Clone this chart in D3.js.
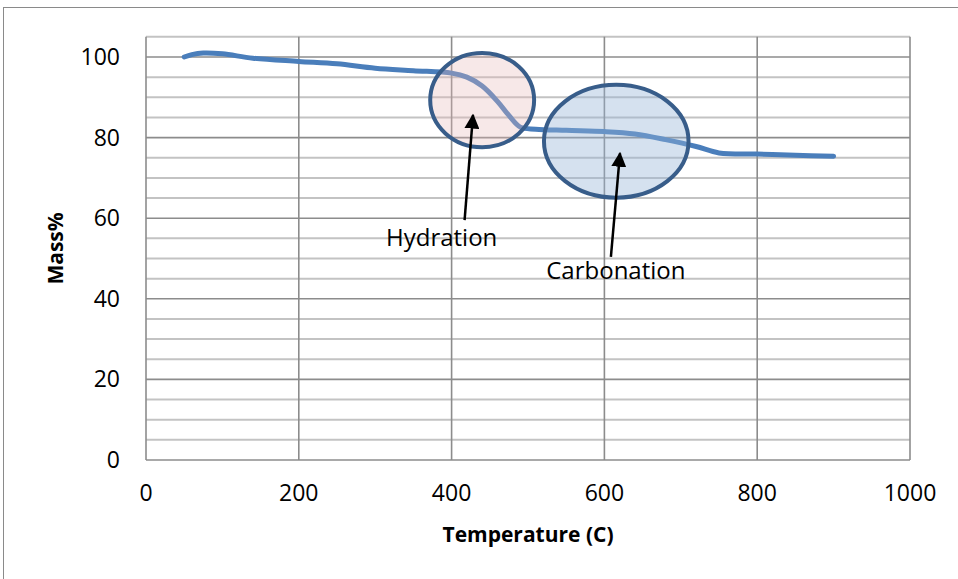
<!DOCTYPE html>
<html lang="en">
<head>
    <meta charset="UTF-8">
    <title>Mass% vs Temperature</title>
    <script src="https://d3js.org/d3.v7.min.js"></script>
    <style>
        body { margin: 0; background: #fff; }
        text { font-family: "Open Sans", sans-serif; fill: #000; }
    </style>
</head>
    <body>
        <script>
            // curve
            const temperature = [50, 60, 75, 100, 140, 200, 250, 300, 350, 400, 420, 440, 460, 475, 490, 510, 550, 600, 640, 680, 720, 750, 800, 850, 900]
            const mass = [100.0, 100.6, 101.0, 100.8, 99.7, 98.9, 98.3, 97.2, 96.6, 96.0, 95.0, 92.8, 89.0, 85.5, 82.6, 82.1, 81.8, 81.5, 80.9, 79.5, 77.8, 76.2, 75.9, 75.6, 75.4]

            const xTicks = [0, 200, 400, 600, 800, 1000]
            const yTicks = [0, 20, 40, 60, 80, 100]

            // annotations in data units: ellipse centre/radii, label and arrow
            const notes = [
                { label: 'Hydration', cx: 440, cy: 89.3, rx: 68, ry: 11.7, fill: '#E6B9B8', op: 0.32, tx: 387, ty: 53.1, ax0: 417, ay0: 59.5, ax1: 428, ay1: 85.6 },
                { label: 'Carbonation', cx: 615.5, cy: 79.1, rx: 94.6, ry: 14.0, fill: '#95B3D7', op: 0.4, tx: 615, ty: 44.9, ax0: 608.5, ay0: 50.4, ax1: 620.4, ay1: 76.1 }
            ]

            const data = temperature.map((t, i) => ({ t: t, m: mass[i] }))

            let width = 958
            let height = 579

            let margin = { top: 36.85, right: 48, bottom: 119, left: 146 }

            xScale = d3.scaleLinear()
                .domain([0, 1000])
                .range([margin.left, width - margin.right])

            yScale = d3.scaleLinear()
                .domain([0, 105])
                .range([height - margin.bottom, margin.top])

            let svg = d3.select('body').append('svg').attr('width', width).attr('height', height)

            svg.append('rect')
                .attr('x', 3.5).attr('y', 7.5)
                .attr('width', width).attr('height', height)
                .attr('fill', 'none').attr('stroke', '#8a8a8a')

            svg.append('defs').append('marker')
                .attr('id', 'head')
                .attr('viewBox', '0 0 10 10')
                .attr('refX', 9).attr('refY', 5)
                .attr('markerWidth', 6).attr('markerHeight', 6)
                .attr('markerUnits', 'strokeWidth')
                .attr('orient', 'auto')
                .append('path')
                .attr('d', 'M0,0 L10,5 L0,10 z')
                .attr('fill', '#000')

            // minor horizontal grid every 5
            svg.append('g')
                .attr('class', 'grid-minor')
                .selectAll('line')
                .data(d3.range(5, 106, 5).filter(v => v % 20 !== 0))
                .join('line')
                .attr('x1', xScale(0)).attr('x2', xScale(1000))
                .attr('y1', d => yScale(d)).attr('y2', d => yScale(d))
                .attr('stroke', '#c3c3c3').attr('stroke-width', 2)

            svg.append('g')
                .attr('class', 'grid-major-y')
                .selectAll('line')
                .data(yTicks)
                .join('line')
                .attr('x1', xScale(0)).attr('x2', xScale(1000))
                .attr('y1', d => yScale(d)).attr('y2', d => yScale(d))
                .attr('stroke', '#8c8c8c').attr('stroke-width', 1.6)

            svg.append('g')
                .attr('class', 'grid-major-x')
                .selectAll('line')
                .data(xTicks)
                .join('line')
                .attr('x1', d => xScale(d)).attr('x2', d => xScale(d))
                .attr('y1', yScale(0)).attr('y2', yScale(105))
                .attr('stroke', '#8c8c8c').attr('stroke-width', 1.6)

            // tick labels
            svg.append('g')
                .selectAll('text')
                .data(xTicks)
                .join('text')
                .attr('x', d => xScale(d))
                .attr('y', yScale(0) + 41)
                .attr('text-anchor', 'middle')
                .style('font-size', '23px')
                .text(d => d)

            svg.append('g')
                .selectAll('text')
                .data(yTicks)
                .join('text')
                .attr('x', xScale(0) - 26)
                .attr('y', d => yScale(d) + 8)
                .attr('text-anchor', 'end')
                .style('font-size', '23px')
                .text(d => d)

            svg.append('text')
                .attr('x', (xScale(0) + xScale(1000)) / 2)
                .attr('y', 542)
                .attr('text-anchor', 'middle')
                .style('font-size', '21px')
                .style('font-weight', 'bold')
                .text('Temperature (C)')

            svg.append('text')
                .attr('transform', `translate(63,${ (yScale(0) + yScale(105)) / 2 }) rotate(-90)`)
                .attr('text-anchor', 'middle')
                .style('font-size', '21px')
                .style('font-weight', 'bold')
                .text('Mass%')

            const line = d3.line()
                .x(d => xScale(d.t))
                .y(d => yScale(d.m))
                .curve(d3.curveCatmullRom)

            svg.append('path')
                .datum(data)
                .attr('d', line)
                .attr('fill', 'none')
                .attr('stroke', '#4a7ebb')
                .attr('stroke-width', 5)
                .attr('stroke-linecap', 'round')

            const kx = xScale(1) - xScale(0)
            const ky = yScale(0) - yScale(1)

            svg.append('g')
                .selectAll('ellipse')
                .data(notes)
                .join('ellipse')
                .attr('cx', d => xScale(d.cx))
                .attr('cy', d => yScale(d.cy))
                .attr('rx', d => d.rx * kx)
                .attr('ry', d => d.ry * ky)
                .attr('fill', d => d.fill)
                .attr('fill-opacity', d => d.op)
                .attr('stroke', '#385d8a')
                .attr('stroke-width', 4)

            svg.append('g')
                .selectAll('text')
                .data(notes)
                .join('text')
                .attr('x', d => xScale(d.tx))
                .attr('y', d => yScale(d.ty))
                .attr('text-anchor', 'middle')
                .style('font-size', '24px')
                .text(d => d.label)

            svg.append('g')
                .selectAll('line')
                .data(notes)
                .join('line')
                .attr('x1', d => xScale(d.ax0)).attr('y1', d => yScale(d.ay0))
                .attr('x2', d => xScale(d.ax1)).attr('y2', d => yScale(d.ay1))
                .attr('stroke', '#000')
                .attr('stroke-width', 2.5)
                .attr('marker-end', 'url(#head)')
        </script>
    </body>
</html>
